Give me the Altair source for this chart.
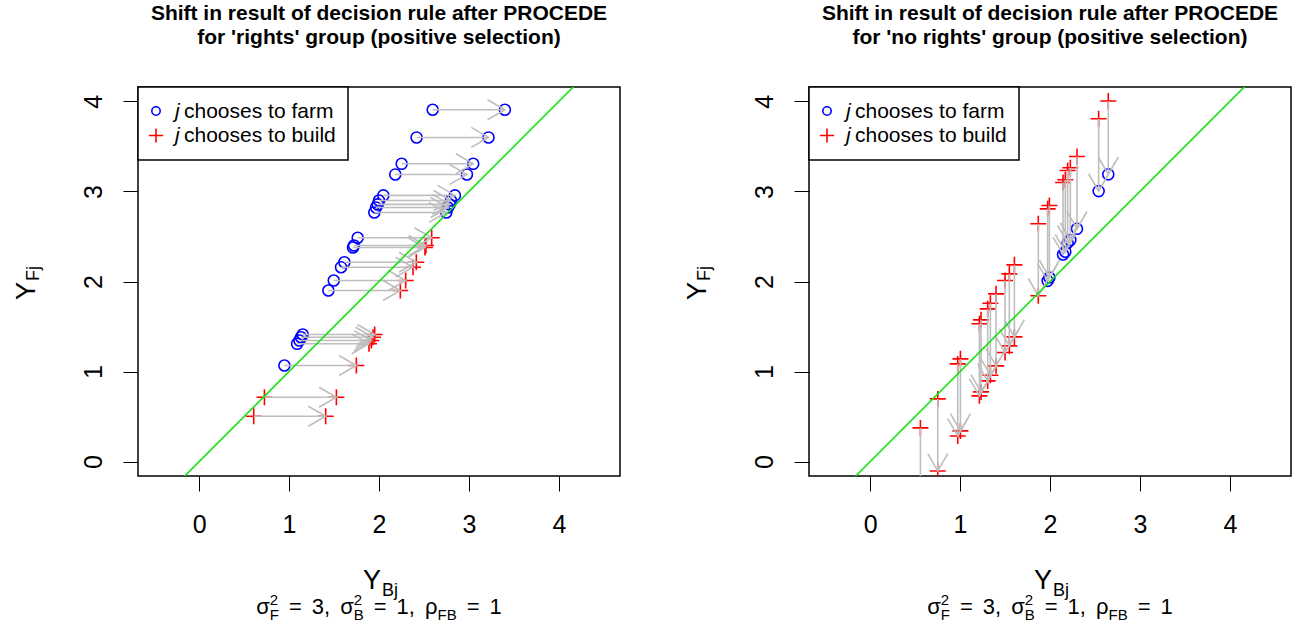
import altair as alt
import pandas as pd

# ---------------- data ----------------
# Left panel: 'rights' group, horizontal shifts (y fixed)
L_Y  = [3.907, 3.600, 3.307, 3.189, 2.956, 2.900, 2.856, 2.822, 2.767,
        2.486, 2.400, 2.378, 2.214, 2.159, 2.011, 1.900,
        1.411, 1.381, 1.344, 1.308, 1.067, 0.715, 0.504]
L_X0 = [2.597, 2.418, 2.252, 2.181, 2.048, 2.000, 1.986, 1.967, 1.948,
        1.763, 1.722, 1.711, 1.615, 1.578, 1.497, 1.437,
        1.152, 1.133, 1.115, 1.089, 0.948, 0.726, 0.607]
L_X1 = [3.400, 3.218, 3.048, 2.978, 2.844, 2.800, 2.786, 2.767, 2.748,
        2.586, 2.522, 2.511, 2.415, 2.378, 2.297, 2.237,
        1.952, 1.933, 1.915, 1.889, 1.748, 1.526, 1.407]
L_C0 = ["farm"] * 21 + ["build"] * 2
L_C1 = ["farm"] * 9 + ["build"] * 14

# Right panel: 'no rights' group, vertical shifts (x fixed)
R_X  = [2.648, 2.541, 2.300, 2.226, 2.196, 2.170, 2.145, 1.993, 1.974, 1.870,
        1.604, 1.548, 1.500, 1.400, 1.337, 1.307, 1.233, 1.215, 1.004, 0.974, 0.752, 0.559]
R_Y0 = [4.004, 3.807, 3.389, 3.263, 3.233, 3.130, 3.100, 2.844, 2.807, 2.641,
        2.185, 2.085, 2.011, 1.863, 1.759, 1.696, 1.574, 1.530, 1.141, 1.085, 0.696, 0.374]
R_Y1 = [3.190, 3.004, 2.585, 2.460, 2.430, 2.330, 2.300, 2.044, 2.007, 1.841,
        1.385, 1.285, 1.211, 1.063, 0.959, 0.896, 0.774, 0.730, 0.341, 0.285, -0.104, -0.426]
R_C0 = ["build"] * 22
R_C1 = ["farm"] * 9 + ["build"] * 13

TICKS = [0, 1, 2, 3, 4]
ABLINE = [-1.0, 5.0]          # y = x
X_DOMAIN = [-0.68, 4.68]
Y_DOMAIN = [-0.16, 4.16]

TITLE1 = "Shift in result of decision rule after PROCEDE"
TITLE2_L = "for 'rights' group (positive selection)"
TITLE2_R = "for 'no rights' group (positive selection)"
LEG_FARM = "chooses to farm"
LEG_BUILD = "chooses to build"

# ---------------- style ----------------
W, H = 482, 389
FONT = "Liberation Sans"
TICK_FS = 25
GRAY, BLUE, RED, GREEN = "#BEBEBE", "#0000FF", "#FF0000", "#14E014"
ARROW = "M-1,-0.577L0,0L-1,0.577"
PLUS = "M-1,0L1,0M0,-1L0,1"
ONE = pd.DataFrame({"k": [0]})

CW = {"=": 0.584, ",": 0.278, "σ": 0.617, "ρ": 0.573,
      "F": 0.611, "B": 0.667, "Y": 0.667, "j": 0.222}
for d in "0123456789":
    CW[d] = 0.556


def tw(s, size):
    return sum(CW.get(c, 0.55) for c in s) * size


def txt(s, x, y, size=21, align="left", bold=False, italic=False, angle=0, baseline="alphabetic"):
    kw = dict(text=s, font=FONT, fontSize=size, align=align, baseline=baseline,
              color="black", angle=angle)
    if bold:
        kw["fontWeight"] = "bold"
    if italic:
        kw["fontStyle"] = "italic"
    return alt.Chart(ONE).mark_text(**kw).encode(x=alt.value(x), y=alt.value(y))


def sigma_line(cx, base):
    big, small, gap = 22, 15, 10
    # (text, kind, gap after)
    segs = [("σ", "big", 0), (("2", "F"), "stack", gap), ("=", "big", gap), ("3,", "big", gap),
            ("σ", "big", 0), (("2", "B"), "stack", gap), ("=", "big", gap), ("1,", "big", gap),
            ("ρ", "big", 0), ("FB", "sub", gap), ("=", "big", gap), ("1", "big", 0)]
    widths = []
    for s, kind, g in segs:
        if kind == "stack":
            widths.append(max(tw(s[0], small), tw(s[1], small)) + g)
        elif kind == "sub":
            widths.append(tw(s, small) + g)
        else:
            widths.append(tw(s, big) + g)
    x = cx - sum(widths) / 2
    out = []
    for (s, kind, g), w in zip(segs, widths):
        if kind == "stack":
            out.append(txt(s[0], x, base - 9, small))
            out.append(txt(s[1], x, base + 6, small))
        elif kind == "sub":
            out.append(txt(s, x, base + 6, small))
        else:
            out.append(txt(s, x, base, big))
        x += w
    return out


def panel(x0, y0, x1, y1, c0, c1, head_angle, title2, anchor=False):
    xs = alt.Scale(domain=X_DOMAIN, nice=False, zero=False)
    ys = alt.Scale(domain=Y_DOMAIN, nice=False, zero=False)
    xax = alt.Axis(values=TICKS, title=None, grid=False, domain=False, tickSize=15,
                   tickColor="black", tickWidth=1, labelFont=FONT, labelFontSize=TICK_FS,
                   labelColor="black", labelPadding=21, labelFlush=False, labelOverlap=False)
    yax = alt.Axis(values=TICKS, title=None, grid=False, domain=False, tickSize=15,
                   tickColor="black", tickWidth=1, labelFont=FONT, labelFontSize=TICK_FS,
                   labelColor="black", labelAngle=270, labelAlign="center",
                   labelBaseline="bottom", labelPadding=17, labelFlush=False,
                   labelOverlap=False)

    seg = pd.DataFrame({"x0": x0, "y0": y0, "x1": x1, "y1": y1})
    pts = pd.concat([pd.DataFrame({"x": x0, "y": y0, "c": c0}),
                     pd.DataFrame({"x": x1, "y": y1, "c": c1})], ignore_index=True)
    ab = pd.DataFrame({"a": ABLINE})

    circles = alt.Chart(pts).transform_filter(alt.datum.c == "farm").mark_point(
        shape="circle", size=121, filled=False, color=BLUE, strokeWidth=1.6,
        opacity=1, clip=True).encode(
        x=alt.X("x:Q", scale=xs, axis=xax), y=alt.Y("y:Q", scale=ys, axis=yax))
    pluses = alt.Chart(pts).transform_filter(alt.datum.c == "build").mark_point(
        shape=PLUS, size=256, filled=False, color=RED, strokeWidth=1.6,
        opacity=1, clip=True).encode(
        x=alt.X("x:Q", scale=xs, axis=xax), y=alt.Y("y:Q", scale=ys, axis=yax))
    shafts = alt.Chart(seg).mark_rule(color=GRAY, strokeWidth=1.6, clip=True).encode(
        x=alt.X("x0:Q", scale=xs, axis=xax), y=alt.Y("y0:Q", scale=ys, axis=yax),
        x2="x1:Q", y2="y1:Q")
    heads = alt.Chart(seg).mark_point(
        shape=ARROW, size=1200, filled=False, color=GRAY, strokeWidth=1.6,
        opacity=1, angle=head_angle, clip=True).encode(
        x=alt.X("x1:Q", scale=xs, axis=xax), y=alt.Y("y1:Q", scale=ys, axis=yax))
    line = alt.Chart(ab).mark_line(color=GREEN, strokeWidth=1.6, clip=True).encode(
        x=alt.X("a:Q", scale=xs, axis=xax), y=alt.Y("a:Q", scale=ys, axis=yax))

    # legend
    box = alt.Chart(ONE).mark_rect(fill="white", stroke="black", strokeWidth=1.5).encode(
        x=alt.value(0), x2=alt.value(210), y=alt.value(0), y2=alt.value(73))
    lc = alt.Chart(ONE).mark_point(shape="circle", size=70, filled=False, color=BLUE,
                                   strokeWidth=1.6, opacity=1).encode(
        x=alt.value(18), y=alt.value(24))
    lp = alt.Chart(ONE).mark_point(shape=PLUS, size=200, filled=False, color=RED,
                                   strokeWidth=1.6, opacity=1).encode(
        x=alt.value(18), y=alt.value(48.5))
    legend = [box, lc, lp,
              txt("j", 37, 31, italic=True), txt(LEG_FARM, 46, 31),
              txt("j", 37, 55, italic=True), txt(LEG_BUILD, 46, 55)]

    cx = W / 2
    texts = [txt(TITLE1, cx, -67, bold=True, align="center"),
             txt(title2, cx, -43, bold=True, align="center"),
             # y title  Y_Fj (rotated)
             txt("Y", -103, 213, size=27, angle=270),
             txt("Fj", -99, 194, size=18, angle=270),
             # x title  Y_Bj
             txt("Y", cx - 16, 502, size=27),
             txt("Bj", cx + 3, 509, size=18)]
    texts += sigma_line(cx, 527)

    layers = [circles, pluses, shafts, heads, line] + legend + texts
    if anchor:
        layers.append(alt.Chart(ONE).mark_rule(color="white", strokeWidth=1).encode(
            x=alt.value(-136.5), x2=alt.value(-130), y=alt.value(-85.5), y2=alt.value(-85.5)))
    return alt.layer(*layers).properties(width=W, height=H)


left = panel(L_X0, L_Y, L_X1, L_Y, L_C0, L_C1, 0, TITLE2_L, anchor=True)
right = panel(R_X, R_Y0, R_X, R_Y1, R_C0, R_C1, 90, TITLE2_R)

chart = alt.hconcat(left, right, spacing=189, bounds="flush").properties(
    padding=0, background="white"
).configure_view(stroke="black", strokeWidth=1.5).configure_axis(
    labelFont=FONT, labelFontSize=TICK_FS, labelColor="black"
)

chart.save("out.html", embed_options={"renderer": "svg", "actions": False})
